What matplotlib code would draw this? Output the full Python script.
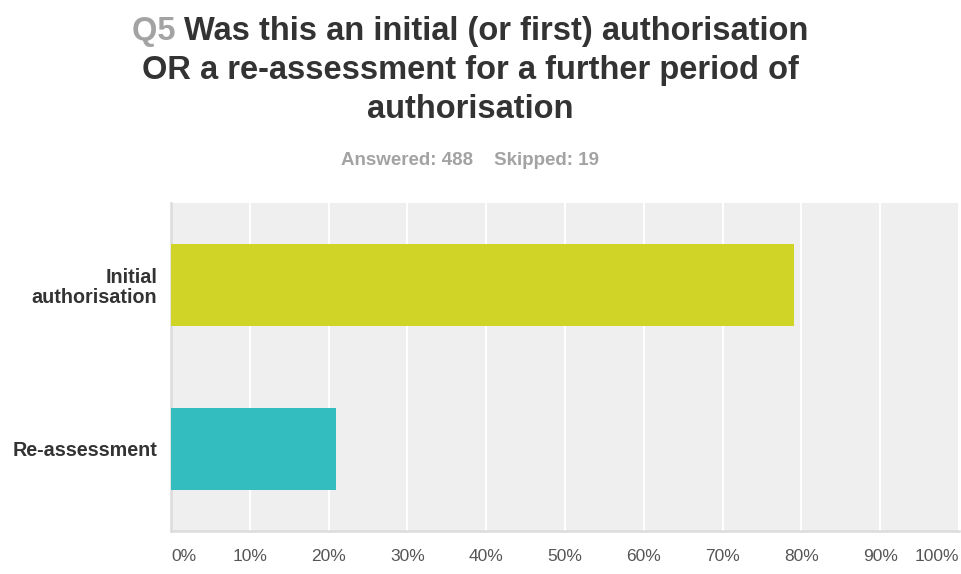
import matplotlib
matplotlib.use("Agg")
from matplotlib import pyplot as plt
from matplotlib import font_manager

# datos
categorias = ["Initial\nauthorisation", "Re-assessment"]
porcentajes = [79.1, 20.9]
colores = ["#cfd426", "#33bdbf"]
ticks = [0, 10, 20, 30, 40, 50, 60, 70, 80, 90, 100]
tick_labels = [f"{t}%" for t in ticks]

nombres = {f.name for f in font_manager.fontManager.ttflist}
narrow = "Liberation Sans Narrow" if "Liberation Sans Narrow" in nombres else "Liberation Sans"

W, H = 961, 574
fig = plt.figure(figsize=(W / 100, H / 100), dpi=100)
fig.patch.set_facecolor("white")

ax = fig.add_axes([171 / W, 1 - 531 / H, (959 - 171) / W, (531 - 203) / H])
ax.set_facecolor("#efefef")
ax.barh(range(len(categorias)), porcentajes, height=0.5, color=colores, zorder=3)
ax.set_xlim(0, 100)
ax.set_ylim(1.5, -0.5)
ax.set_xticks(ticks)
ax.set_xticklabels(tick_labels, fontsize=12.5, color="#555555", family="Liberation Sans")
labs = ax.get_xticklabels()
labs[0].set_ha("left")
labs[-1].set_ha("right")
ax.set_yticks(range(len(categorias)))
ax.set_yticklabels(categorias, fontsize=14.2, fontweight="bold", color="#333333",
                   family="Liberation Sans", linespacing=1.05)
ax.tick_params(axis="both", length=0)
ax.tick_params(axis="x", pad=13)
ax.tick_params(axis="y", pad=10)
ax.grid(axis="x", color="white", linewidth=1.5, zorder=1)
for s in ["top", "right"]:
    ax.spines[s].set_visible(False)
for s in ["left", "bottom"]:
    ax.spines[s].set_color("#dcdcdc")
    ax.spines[s].set_linewidth(1.8)

# titulo
cx = 470
tam = 23.5
t1 = fig.text(0, 1 - 40 / H, "Q5 ", fontsize=tam, fontweight="bold", color="#a3a3a3",
              family=narrow, va="baseline", ha="left")
t2 = fig.text(0, 1 - 40 / H, "Was this an initial (or first) authorisation", fontsize=tam,
              fontweight="bold", color="#333333", family=narrow, va="baseline", ha="left")
r = fig.canvas.get_renderer()
w1 = t1.get_window_extent(r).width
w2 = t2.get_window_extent(r).width
x0 = cx - (w1 + w2) / 2
t1.set_x(x0 / W)
t2.set_x((x0 + w1) / W)
fig.text(cx / W, 1 - 79 / H, "OR a re-assessment for a further period of", fontsize=tam,
         fontweight="bold", color="#333333", family=narrow, va="baseline", ha="center")
fig.text(cx / W, 1 - 118 / H, "authorisation", fontsize=tam,
         fontweight="bold", color="#333333", family=narrow, va="baseline", ha="center")
fig.text(cx / W, 1 - 165 / H, "Answered: 488    Skipped: 19", fontsize=13.5,
         fontweight="bold", color="#a3a3a3", family=narrow, va="baseline", ha="center")

fig.savefig("out.png", dpi=100)
